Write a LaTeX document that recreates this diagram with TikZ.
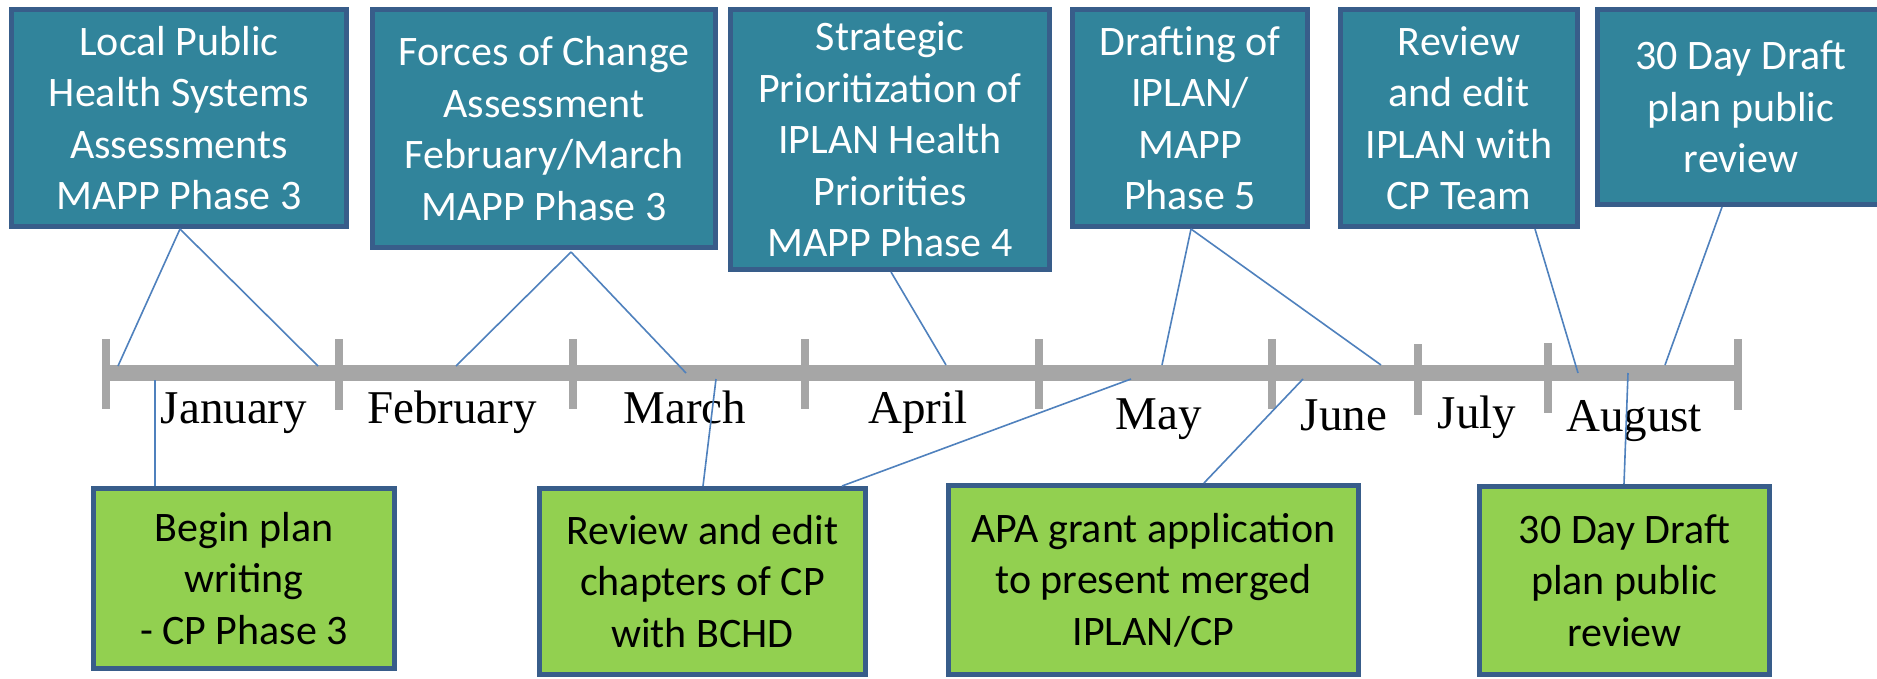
\documentclass[tikz,border=0pt]{standalone}
\usepackage{fontspec}
\setmainfont{Carlito}
\newfontfamily\monthfont{Liberation Serif}
\definecolor{boxteal}{HTML}{31849B}
\definecolor{boxborder}{HTML}{385D8A}
\definecolor{boxgreen}{HTML}{92D050}
\definecolor{connblue}{HTML}{4F81BD}
\definecolor{bargray}{HTML}{A6A6A6}
\tikzset{
  topbox/.style={draw=boxborder, line width=5pt, fill=boxteal, text=white,
    font=\fontsize{42}{51.5}\selectfont, align=center, inner sep=0pt},
  greenbox/.style={draw=boxborder, line width=5pt, fill=boxgreen, text=black,
    font=\fontsize{42}{51.5}\selectfont, align=center, inner sep=0pt},
  conn/.style={draw=connblue, line width=1.6pt},
  month/.style={font=\monthfont\fontsize{47}{50}\selectfont, anchor=base, inner sep=0pt},
  barline/.style={draw=bargray, line width=16pt},
  tickline/.style={draw=bargray, line width=8pt}
}
\begin{document}
\begin{tikzpicture}[x=1pt,y=-1pt]
\clip (0,0) rectangle (1877,678);
\fill[white] (0,0) rectangle (1877,678);

% timeline bar and ticks
\coordinate (barL) at (102,373);
\coordinate (barR) at (1742,373);
\draw[barline] (barL) -- (barR);
\foreach \tx/\ta/\tb [count=\i] in {105.5/339/409, 339/339/410, 572.5/339/409, 805/339/409, 1039/339/409, 1272/339/409, 1418/344/415, 1548/343/413, 1738/339/410}{
  \coordinate (tk\i a) at (\tx,\ta);
  \coordinate (tk\i b) at (\tx,\tb);
  \draw[tickline] (tk\i a) -- (tk\i b);
}

% month labels
\node[month] (mJan) at (234,423) {January};
\node[month] (mFeb) at (452,423) {February};
\node[month] (mMar) at (685,423) {March};
\node[month] (mApr) at (918,423) {April};
\node[month] (mMay) at (1159,429) {May};
\node[month] (mJun) at (1344,430) {June};
\node[month] (mJul) at (1477,428) {July};
\node[month] (mAug) at (1634,431) {August};

% end points of connectors on the bar
\coordinate (e1a) at (118,366);
\coordinate (e1b) at (318,366);
\coordinate (e2a) at (456,366);
\coordinate (e2b) at (686,373);
\coordinate (e3)  at (946,365);
\coordinate (e4a) at (1162,365);
\coordinate (e4b) at (1381,365);
\coordinate (e5)  at (1578,373);
\coordinate (e6)  at (1665,365);
\coordinate (f1)  at (155,380);
\coordinate (f2a) at (716,379);
\coordinate (f2b) at (1131,379);
\coordinate (f3)  at (1303,379);
\coordinate (f4)  at (1628,373);

% top boxes
\node[topbox, minimum width=335pt, minimum height=217pt] (b1) at (179,118)
  {Local Public\\Health Systems\\Assessments\\MAPP Phase 3};
\node[topbox, minimum width=343pt, minimum height=238pt] (b2) at (544,128.5)
  {Forces of Change\\Assessment\\February/March\\MAPP Phase 3};
\node[topbox, minimum width=319pt, minimum height=260pt] (b3) at (890,139.5)
  {Strategic\\Prioritization of\\IPLAN Health\\Priorities\\MAPP Phase 4};
\node[topbox, minimum width=235pt, minimum height=217pt] (b4) at (1190,118)
  {Drafting of\\IPLAN/\\MAPP\\Phase 5};
\node[topbox, minimum width=237pt, minimum height=217pt] (b5) at (1459,118)
  {Review\\and edit\\IPLAN with\\CP Team};
\node[topbox, minimum width=288pt, minimum height=195pt] (b6) at (1741,107)
  {30 Day Draft\\plan public\\review};

% bottom boxes
\node[greenbox, minimum width=301pt, minimum height=180pt] (g1) at (244,578.5)
  {Begin plan\\writing\\- CP Phase 3};
\node[greenbox, minimum width=326pt, minimum height=186pt] (g2) at (702.5,581.5)
  {Review and edit\\chapters of CP\\with BCHD};
\node[greenbox, minimum width=410pt, minimum height=189pt] (g3) at (1153.5,580)
  {APA grant application\\to present merged\\IPLAN/CP};
\node[greenbox, minimum width=290pt, minimum height=188pt] (g4) at (1624.5,580.5)
  {30 Day Draft\\plan public\\review};

% connectors
\draw[conn] ([xshift=1pt]b1.south) -- (e1a);
\draw[conn] ([xshift=1pt]b1.south) -- (e1b);
\draw[conn] ([xshift=27pt,yshift=-2pt]b2.south) -- (e2a);
\draw[conn] ([xshift=27pt,yshift=-2pt]b2.south) -- (e2b);
\draw[conn] ([xshift=1pt]b3.south) -- (e3);
\draw[conn] ([xshift=1pt]b4.south) -- (e4a);
\draw[conn] ([xshift=1pt]b4.south) -- (e4b);
\draw[conn] ([xshift=76pt]b5.south) -- (e5);
\draw[conn] ([xshift=-19pt]b6.south) -- (e6);
\draw[conn] ([xshift=-89pt]g1.north) -- (f1);
\draw[conn] ([xshift=0.5pt]g2.north) -- (f2a);
\draw[conn] ([xshift=139.5pt]g2.north) -- (f2b);
\draw[conn] ([xshift=50.5pt]g3.north) -- (f3);
\draw[conn] ([xshift=-0.5pt]g4.north) -- (f4);
\end{tikzpicture}
\end{document}
